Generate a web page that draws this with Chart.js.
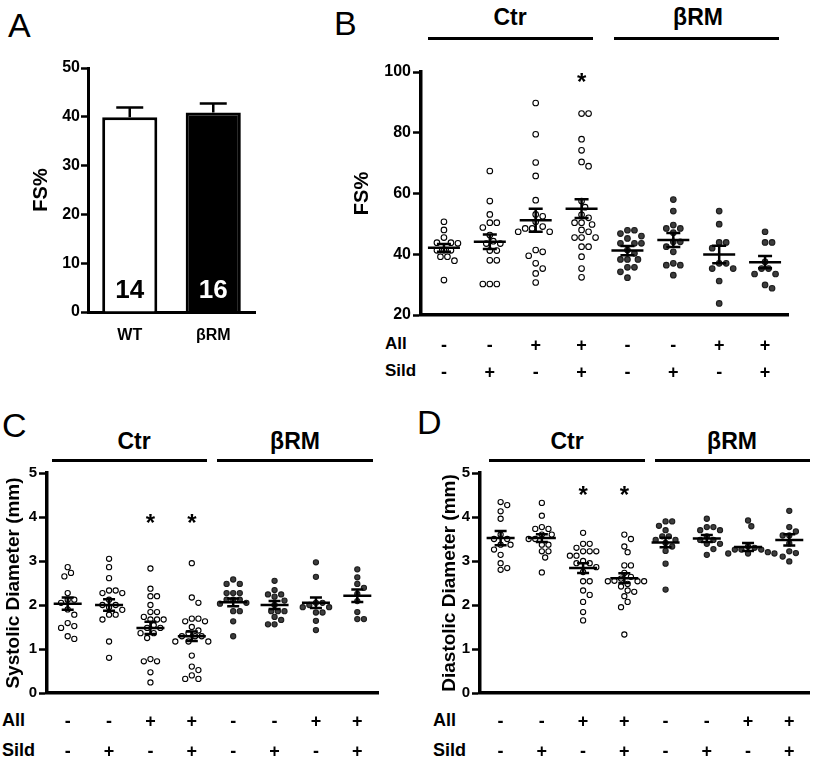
<!DOCTYPE html>
<html>
<head>
<meta charset="utf-8">
<script src="https://cdn.jsdelivr.net/npm/chart.js@4.4.0/dist/chart.umd.min.js"></script>
<style>
  body { margin: 0; background: #fff; font-family: "Liberation Sans", Arial, sans-serif; }
  #fig { position: relative; width: 815px; height: 763px; overflow: hidden; }
  canvas { position: absolute; }
  .panel { position: absolute; font-size: 34px; line-height: 1; color: #000; }
  .hdr { position: absolute; font-size: 23px; font-weight: bold; line-height: 1; transform: translateX(-50%); white-space: nowrap; }
  .rule { position: absolute; height: 3px; background: #000; }
  .row { position: absolute; font-weight: bold; line-height: 1; }
</style>
</head>
<body>
<div id="fig">
  <div class="panel" style="left:8px;top:8px">A</div>
  <div class="panel" style="left:334px;top:6px">B</div>
  <div class="panel" style="left:2px;top:408px">C</div>
  <div class="panel" style="left:417px;top:405px">D</div>

  <div class="hdr" style="left:510px;top:6px">Ctr</div>
  <div class="hdr" style="left:698px;top:6px">βRM</div>
  <div class="rule" style="left:428px;top:37px;width:165px"></div>
  <div class="rule" style="left:614px;top:37px;width:165px"></div>

  <div class="hdr" style="left:134px;top:430px">Ctr</div>
  <div class="hdr" style="left:295px;top:430px">βRM</div>
  <div class="rule" style="left:52px;top:459px;width:155px"></div>
  <div class="rule" style="left:217px;top:459px;width:156px"></div>

  <div class="hdr" style="left:567px;top:430px">Ctr</div>
  <div class="hdr" style="left:732px;top:430px">βRM</div>
  <div class="rule" style="left:489px;top:459px;width:156px"></div>
  <div class="rule" style="left:655px;top:459px;width:155px"></div>

  <div class="row" style="left:385px;top:335px;font-size:17px">All</div>
  <div class="row" style="left:385px;top:362px;font-size:17px">Sild</div>
  <div class="row" style="left:2px;top:711px;font-size:18px">All</div>
  <div class="row" style="left:2px;top:741px;font-size:18px">Sild</div>
  <div class="row" style="left:433px;top:711px;font-size:18px">All</div>
  <div class="row" style="left:433px;top:741px;font-size:18px">Sild</div>

  <canvas id="chartA" width="270" height="350" style="left:0;top:0"></canvas>
  <canvas id="chartB" width="475" height="385" style="left:340px;top:0"></canvas>
  <canvas id="chartC" width="400" height="383" style="left:0;top:380px"></canvas>
  <canvas id="chartD" width="400" height="383" style="left:415px;top:380px"></canvas>
</div>
<script>
// treatment rows shared by B, C, D
const genotype = ['Ctr', 'Ctr', 'Ctr', 'Ctr', 'βRM', 'βRM', 'βRM', 'βRM'];
const allRow  = ['-', '-', '+', '+', '-', '-', '+', '+'];
const sildRow = ['-', '+', '-', '+', '-', '+', '-', '+'];

// A: baseline FS%
const barLabels = ['WT', 'βRM'];
const fsMean = [39.9, 40.9];
const fsSem = [2.0, 1.8];
const fsN = [14, 16];

// B: FS% per animal
const fsPoints = [
  [50.7, 48.0, 45.5, 43.8, 43.8, 43.6, 41.3, 41.3, 41.3, 39.2, 39.2, 37.9, 31.5],
  [67.4, 57.5, 53.1, 50.4, 50.4, 48.8, 46.3, 44.3, 43.5, 43.5, 41.2, 41.2, 38.0, 38.0, 30.2, 30.2, 30.2],
  [89.8, 79.5, 70.2, 65.8, 57.8, 53.1, 52.5, 50.7, 49.1, 48.5, 48.5, 47.4, 47.4, 41.4, 40.8, 39.5, 37.0, 35.3, 33.7, 30.7],
  [86.3, 86.3, 77.9, 74.2, 70.4, 69.0, 57.5, 55.5, 53.0, 52.0, 50.4, 50.4, 49.8, 48.0, 47.4, 45.5, 45.5, 45.5, 42.5, 42.5, 39.2, 35.3, 32.4],
  [47.9, 47.9, 46.8, 46.0, 45.2, 43.6, 43.6, 43.6, 41.4, 40.3, 38.3, 38.3, 38.3, 35.7, 35.7, 34.2, 32.3],
  [58.0, 54.2, 49.6, 48.5, 48.5, 47.1, 44.1, 44.1, 42.5, 40.8, 37.0, 36.4, 36.4, 33.1],
  [54.2, 49.9, 43.9, 43.9, 42.0, 37.0, 37.0, 35.3, 35.3, 31.2, 23.8],
  [47.4, 43.9, 43.9, 37.5, 35.3, 35.3, 33.5, 33.5, 29.9, 28.8]
];
const fsGroupMean = [42.1, 44.1, 51.2, 55.0, 41.2, 44.7, 39.9, 37.4];
const fsGroupSem  = [1.3, 2.4, 3.8, 3.1, 1.5, 2.3, 2.9, 2.0];
const fsStar = [false, false, false, true, false, false, false, false];

// C: systolic diameter (mm)
const sysPoints = [
  [2.86, 2.73, 2.65, 2.27, 2.12, 2.12, 2.05, 1.90, 1.78, 1.59, 1.52, 1.48, 1.29, 1.23],
  [3.05, 2.86, 2.61, 2.33, 2.33, 2.27, 2.27, 2.12, 2.00, 2.00, 1.95, 1.89, 1.78, 1.78, 1.67, 1.17, 0.80],
  [2.83, 2.37, 2.20, 2.20, 2.00, 1.84, 1.84, 1.73, 1.67, 1.67, 1.67, 1.54, 1.48, 1.48, 1.36, 1.36, 1.25, 0.77, 0.72, 0.72, 0.47, 0.24],
  [2.95, 2.17, 2.05, 1.69, 1.69, 1.63, 1.63, 1.50, 1.42, 1.36, 1.29, 1.29, 1.29, 1.17, 1.17, 1.17, 0.85, 0.60, 0.52, 0.40, 0.32, 0.32],
  [2.58, 2.48, 2.48, 2.27, 2.27, 2.27, 2.12, 2.12, 2.12, 2.05, 2.03, 1.86, 1.86, 1.63, 1.29],
  [2.55, 2.34, 2.24, 2.24, 2.19, 2.10, 2.00, 1.86, 1.86, 1.86, 1.73, 1.66, 1.56, 1.56],
  [2.97, 2.64, 2.05, 2.05, 2.00, 1.95, 1.95, 1.83, 1.83, 1.64, 1.43],
  [2.81, 2.63, 2.48, 2.39, 2.25, 2.09, 1.84, 1.68, 1.68]
];
const sysMean = [2.03, 2.00, 1.48, 1.29, 2.06, 2.00, 2.05, 2.21];
const sysSem  = [0.14, 0.13, 0.14, 0.11, 0.09, 0.09, 0.12, 0.14];
const sysStar = [false, false, true, true, false, false, false, false];

// D: diastolic diameter (mm)
const diaPoints = [
  [4.34, 4.27, 4.13, 3.96, 3.60, 3.50, 3.50, 3.37, 3.37, 3.26, 3.14, 2.95, 2.84, 2.80],
  [4.32, 4.03, 3.77, 3.73, 3.73, 3.60, 3.60, 3.50, 3.50, 3.37, 3.37, 3.22, 3.22, 3.08, 2.74],
  [3.64, 3.39, 3.39, 3.30, 3.22, 3.22, 3.22, 3.12, 3.12, 3.00, 2.95, 2.95, 2.86, 2.75, 2.54, 2.54, 2.33, 2.23, 2.07, 1.84, 1.65],
  [3.60, 3.50, 3.33, 3.20, 2.90, 2.90, 2.73, 2.64, 2.60, 2.55, 2.54, 2.54, 2.54, 2.48, 2.42, 2.33, 2.30, 2.20, 2.07, 1.95, 1.33],
  [3.90, 3.90, 3.80, 3.70, 3.56, 3.56, 3.48, 3.48, 3.41, 3.33, 3.23, 2.94, 2.35],
  [3.96, 3.77, 3.77, 3.70, 3.70, 3.56, 3.48, 3.48, 3.39, 3.39, 3.27, 3.14],
  [3.92, 3.79, 3.33, 3.30, 3.26, 3.26, 3.26, 3.20, 3.17, 3.17, 3.17],
  [4.14, 3.77, 3.67, 3.58, 3.58, 3.40, 3.22, 3.18, 3.10, 2.99]
];
const diaMean = [3.52, 3.52, 2.84, 2.61, 3.42, 3.51, 3.32, 3.48];
const diaSem  = [0.16, 0.09, 0.11, 0.11, 0.11, 0.08, 0.09, 0.13];
const diaStar = [false, false, true, true, false, false, false, false];

const FONT = '"Liberation Sans", Arial, sans-serif';
Chart.defaults.font.family = FONT;
Chart.defaults.color = '#000';
Chart.defaults.animation = false;

// mean line + SEM whiskers (+ asterisk) drawn on top of the dots
const meanSemPlugin = {
  id: 'meanSem',
  afterDatasetsDraw(chart, args, o) {
    const { ctx, scales: { x, y } } = chart;
    ctx.save();
    ctx.strokeStyle = '#000';
    ctx.lineWidth = o.lineWidth;
    o.means.forEach((m, i) => {
      const cx = x.getPixelForValue(i);
      const my = y.getPixelForValue(m);
      const top = y.getPixelForValue(m + o.sems[i]);
      const bot = y.getPixelForValue(m - o.sems[i]);
      ctx.beginPath();
      ctx.moveTo(cx - o.meanHalf, my); ctx.lineTo(cx + o.meanHalf, my);
      ctx.moveTo(cx, top); ctx.lineTo(cx, bot);
      ctx.moveTo(cx - o.capHalf, top); ctx.lineTo(cx + o.capHalf, top);
      ctx.moveTo(cx - o.capHalf, bot); ctx.lineTo(cx + o.capHalf, bot);
      ctx.stroke();
      if (o.stars[i]) {
        ctx.fillStyle = '#000';
        ctx.font = 'bold 24px ' + FONT;
        ctx.textAlign = 'center';
        ctx.textBaseline = 'alphabetic';
        ctx.fillText('*', cx, y.getPixelForValue(o.starAt) + 13);
      }
    });
    ctx.restore();
  }
};

// spread dots sideways so they don't overlap (simple beeswarm in pixel space)
function swarm(chart, dot) {
  const xs = chart.scales.x, ys = chart.scales.y;
  const pxPerUnit = xs.width / (xs.max - xs.min);
  chart.data.datasets.forEach((ds, i) => {
    const placed = [];
    const order = ds.data.map((_, j) => j).sort((a, b) => ds.data[b].y - ds.data[a].y);
    order.forEach(j => {
      const py = ys.getPixelForValue(ds.data[j].y);
      let dx = 0;
      for (let k = 0; k < 60; k++) {
        const step = Math.ceil(k / 2) * dot / 2 * (k % 2 ? 1 : -1);
        if (placed.every(q => Math.hypot(q.dx - step, q.py - py) >= dot * 0.97)) { dx = step; break; }
      }
      placed.push({ dx, py });
      ds.data[j].x = i + dx / pxPerUnit;
    });
  });
  chart.update('none');
}

function dotChart(id, cfg) {
  const datasets = cfg.points.map((vals, i) => ({
    data: vals.map(v => ({ x: i, y: v })),
    pointRadius: cfg.radius,
    pointBorderWidth: 1.1,
    pointBackgroundColor: genotype[i] === 'Ctr' ? '#ffffff' : '#3d3d3d',
    pointBorderColor: genotype[i] === 'Ctr' ? '#000000' : '#1c1c1c',
    showLine: false
  }));
  const chart = new Chart(document.getElementById(id), {
    type: 'scatter',
    data: { datasets },
    plugins: [meanSemPlugin],
    options: {
      responsive: false,
      devicePixelRatio: 1,
      layout: { padding: cfg.padding },
      plugins: {
        legend: { display: false },
        tooltip: { enabled: false },
        meanSem: {
          means: cfg.means, sems: cfg.sems, stars: cfg.stars, starAt: cfg.starAt,
          meanHalf: cfg.meanHalf, capHalf: cfg.capHalf, lineWidth: 2.5
        }
      },
      scales: {
        x: {
          type: 'linear', min: -0.5, max: 7.5,
          afterBuildTicks: s => { s.ticks = allRow.map((_, i) => ({ value: i })); },
          afterFit: s => { s.height = cfg.xHeight; },
          ticks: {
            autoSkip: false, maxRotation: 0, padding: cfg.rowPad, color: '#000',
            font: { size: 18, weight: 'bold', lineHeight: cfg.rowGap + 'px' },
            callback: v => [allRow[v], sildRow[v]]
          },
          grid: { display: false },
          border: { display: true, width: 3.5, color: '#000' }
        },
        y: {
          min: cfg.min, max: cfg.max,
          afterFit: s => { s.width = cfg.yWidth; },
          ticks: { stepSize: cfg.step, padding: 2, color: '#000', font: { size: cfg.tickSize, weight: 'bold' } },
          grid: { display: true, drawOnChartArea: false, drawTicks: true, tickLength: 8, tickWidth: 2.5, tickColor: '#000' },
          border: { display: true, width: 3.5, color: '#000' },
          title: { display: true, text: cfg.title, color: '#000', padding: { top: 0, bottom: 0 },
                   font: { size: cfg.titleSize, weight: 'bold' } }
        }
      }
    }
  });
  swarm(chart, cfg.dot);
  return chart;
}

// A: bar chart with upward SEM and n inside bars
const barExtras = {
  id: 'barExtras',
  afterDatasetsDraw(chart) {
    const { ctx, scales: { x, y } } = chart;
    const meta = chart.getDatasetMeta(0);
    ctx.save();
    ctx.strokeStyle = '#000';
    ctx.lineWidth = 2.5;
    fsMean.forEach((m, i) => {
      const cx = x.getPixelForValue(i);
      const top = y.getPixelForValue(m + fsSem[i]);
      ctx.beginPath();
      ctx.moveTo(cx, y.getPixelForValue(m)); ctx.lineTo(cx, top);
      ctx.moveTo(cx - 13.5, top); ctx.lineTo(cx + 13.5, top);
      ctx.stroke();
      ctx.fillStyle = i === 0 ? '#000' : '#fff';
      ctx.font = 'bold 26px ' + FONT;
      ctx.textAlign = 'center';
      ctx.textBaseline = 'middle';
      ctx.fillText(String(fsN[i]), meta.data[i].x, y.getPixelForValue(0) - 21);
    });
    ctx.restore();
  }
};

new Chart(document.getElementById('chartA'), {
  type: 'bar',
  data: {
    labels: barLabels,
    datasets: [{
      data: fsMean,
      backgroundColor: ['#ffffff', '#000000'],
      borderColor: '#000',
      borderWidth: 3,
      barPercentage: 0.66,
      categoryPercentage: 1
    }]
  },
  plugins: [barExtras],
  options: {
    responsive: false,
    devicePixelRatio: 1,
    layout: { padding: { left: 29, top: 68, right: 15, bottom: 0 } },
    plugins: { legend: { display: false }, tooltip: { enabled: false } },
    scales: {
      x: {
        afterFit: s => { s.height = 38; },
        ticks: { padding: 6, color: '#000', font: { size: 16, weight: 'bold' } },
        grid: { display: false },
        border: { display: true, width: 3, color: '#000' }
      },
      y: {
        min: 0, max: 50,
        afterFit: s => { s.width = 59; },
        ticks: { stepSize: 10, padding: 1, color: '#000', font: { size: 16, weight: 'bold' } },
        grid: { display: true, drawOnChartArea: false, drawTicks: true, tickLength: 7, tickWidth: 2.5, tickColor: '#000' },
        border: { display: true, width: 3, color: '#000' },
        title: { display: true, text: 'FS%', color: '#000', padding: { top: 0, bottom: 0 }, font: { size: 20, weight: 'bold' } }
      }
    }
  }
});

dotChart('chartB', {
  points: fsPoints, means: fsGroupMean, sems: fsGroupSem, stars: fsStar, starAt: 98.5,
  min: 20, max: 100, step: 20, title: 'FS%', titleSize: 20, tickSize: 16,
  padding: { left: 10, top: 72, right: 27, bottom: 0 }, yWidth: 71, xHeight: 70,
  rowPad: 9.5, rowGap: 27, radius: 2.8, dot: 7, meanHalf: 16, capHalf: 7
});

dotChart('chartC', {
  points: sysPoints, means: sysMean, sems: sysSem, stars: sysStar, starAt: 3.98,
  min: 0, max: 5, step: 1, title: 'Systolic Diameter (mm)', titleSize: 19, tickSize: 15,
  padding: { left: 2, top: 93, right: 22, bottom: 0 }, yWidth: 45, xHeight: 70,
  rowPad: 6, rowGap: 30, radius: 2.6, dot: 6.6, meanHalf: 14, capHalf: 6
});

dotChart('chartD', {
  points: diaPoints, means: diaMean, sems: diaSem, stars: diaStar, starAt: 4.62,
  min: 0, max: 5, step: 1, title: 'Diastolic Diameter (mm)', titleSize: 19, tickSize: 15,
  padding: { left: 23, top: 93, right: 5, bottom: 0 }, yWidth: 42, xHeight: 70,
  rowPad: 6, rowGap: 30, radius: 2.6, dot: 6.6, meanHalf: 14, capHalf: 6
});
</script>
</body>
</html>
